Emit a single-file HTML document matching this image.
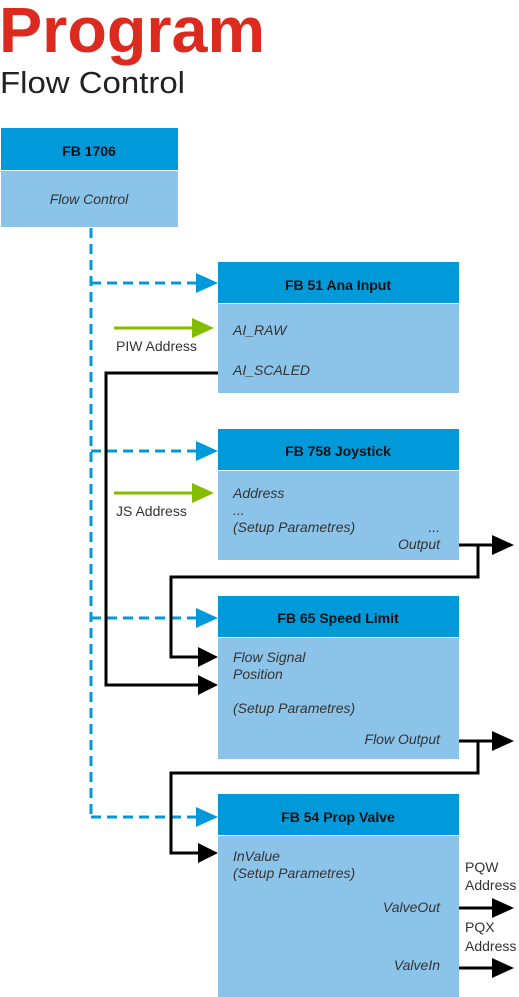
<!DOCTYPE html><html><head><style>body{margin:0;background:#fff}svg{display:block}text{font-family:"Liberation Sans",sans-serif}</style></head><body>
<svg width="519" height="997" viewBox="0 0 519 997" xmlns="http://www.w3.org/2000/svg">
<text x="-1" y="52" font-size="64" font-weight="bold" fill="#DC2A1E" textLength="266" lengthAdjust="spacingAndGlyphs">Program</text>
<text x="0" y="93" font-size="31" fill="#222" textLength="185" lengthAdjust="spacingAndGlyphs">Flow Control</text>
<g font-size="14" fill="#111">
<rect x="1" y="128" width="177" height="42" fill="#009ADA"/><rect x="1" y="171" width="177" height="56" fill="#8CC3E9"/>
<text x="89" y="156" text-anchor="middle" font-weight="bold">FB 1706</text>
<text x="89" y="204" text-anchor="middle" font-style="italic" fill="#333">Flow Control</text>

<rect x="218" y="262" width="241" height="41" fill="#009ADA"/><rect x="218" y="304" width="241" height="89" fill="#8CC3E9"/>
<text x="338" y="290" text-anchor="middle" font-weight="bold">FB 51 Ana Input</text>
<text x="233" y="335" font-style="italic" fill="#333">AI_RAW</text>
<text x="233" y="375" font-style="italic" fill="#333">AI_SCALED</text>

<rect x="218" y="429" width="241" height="41" fill="#009ADA"/><rect x="218" y="471" width="241" height="89" fill="#8CC3E9"/>
<text x="338" y="456" text-anchor="middle" font-weight="bold">FB 758 Joystick</text>
<g font-style="italic" fill="#333">
<text x="233" y="498">Address</text><text x="233" y="515">...</text><text x="233" y="532">(Setup Parametres)</text>
<text x="440" y="532" text-anchor="end">...</text><text x="440" y="549" text-anchor="end">Output</text></g>

<rect x="218" y="596" width="241" height="41" fill="#009ADA"/><rect x="218" y="638" width="241" height="121" fill="#8CC3E9"/>
<text x="338" y="623" text-anchor="middle" font-weight="bold">FB 65 Speed Limit</text>
<g font-style="italic" fill="#333">
<text x="233" y="662">Flow Signal</text><text x="233" y="679">Position</text><text x="233" y="713">(Setup Parametres)</text>
<text x="440" y="744" text-anchor="end">Flow Output</text></g>

<rect x="218" y="794" width="241" height="41" fill="#009ADA"/><rect x="218" y="836" width="241" height="161" fill="#8CC3E9"/>
<text x="338" y="822" text-anchor="middle" font-weight="bold">FB 54 Prop Valve</text>
<g font-style="italic" fill="#333">
<text x="233" y="861">InValue</text><text x="233" y="878">(Setup Parametres)</text>
<text x="440" y="912" text-anchor="end">ValveOut</text><text x="440" y="970" text-anchor="end">ValveIn</text></g>

<g fill="#333">
<text x="116" y="351">PIW Address</text><text x="116" y="516">JS Address</text>
<text x="465" y="872">PQW</text><text x="465" y="890">Address</text>
<text x="465" y="932">PQX</text><text x="465" y="951">Address</text></g>
</g>
<g stroke="#009ADA" stroke-width="3" fill="none" stroke-dasharray="10,6">
<path d="M91 228V817"/><path d="M91 283H198M91 451H198M91 618H198M91 817H198"/>
</g>
<g fill="#009ADA"><path d="M196 273L218 283L196 293Z"/><path d="M196 441L218 451L196 461Z"/><path d="M196 608L218 618L196 628Z"/><path d="M196 807L218 817L196 827Z"/></g>
<g stroke="#84BD00" stroke-width="3"><path d="M114 328H194M114 493H194"/></g>
<g fill="#84BD00"><path d="M192 318L214 328L192 338Z"/><path d="M192 483L214 493L192 503Z"/></g>
<g stroke="#000" stroke-width="3" fill="none">
<path d="M218 373H106V685H200"/>
<path d="M459 545H494M478 545V577H171V657H200"/>
<path d="M459 741H494M478 741V773H171V853H200"/>
<path d="M459 908H494M459 968H494"/>
</g>
<g fill="#000">
<path d="M198 675L218 685L198 695Z"/><path d="M198 647L218 657L198 667Z"/><path d="M198 843L218 853L198 863Z"/>
<path d="M492 535L514 545L492 555Z"/><path d="M492 731L514 741L492 751Z"/>
<path d="M492 898L514 908L492 918Z"/><path d="M492 958L514 968L492 978Z"/>
</g>
</svg></body></html>
